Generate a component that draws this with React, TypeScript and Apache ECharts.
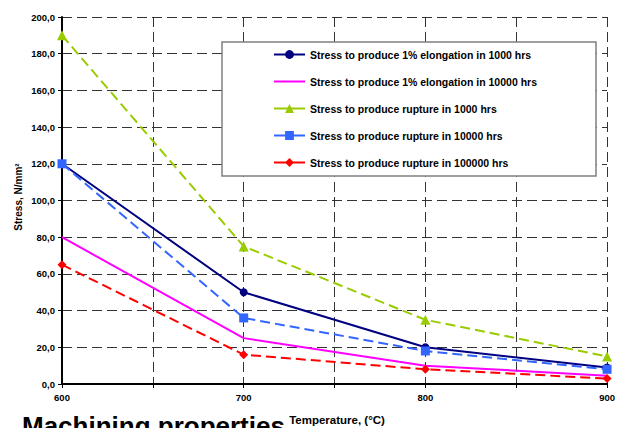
import React, { useEffect, useRef } from "react";
import * as echarts from "echarts";

const temps = [600, 700, 800, 900];
const elong1000 = [120, 50, 20, 9];
const elong10000 = [80, 25, 10, 4.5];
const rupture1000 = [190, 75, 35, 15];
const rupture10000 = [120, 36, 18, 8];
const rupture100000 = [65, 16, 8, 3];

const seriesNames = [
  "Stress to produce 1% elongation in 1000 hrs",
  "Stress to produce 1% elongation in 10000 hrs",
  "Stress to produce rupture in 1000 hrs",
  "Stress to produce rupture in 10000 hrs",
  "Stress to produce rupture in 100000 hrs",
];

const FONT = "'Liberation Sans', Arial, sans-serif";

const pts = (arr: number[]) => temps.map((t, i) => [t, arr[i]]);

export default function App() {
  const ref = useRef<HTMLDivElement>(null);
  useEffect(() => {
    if (!ref.current) return;
    const chart = echarts.init(ref.current, null, { renderer: "svg" });
    const dash = [10, 5];
    chart.setOption({
      animation: false,
      backgroundColor: "#fff",
      grid: { left: 62, right: 9, top: 17, bottom: 44, containLabel: false },
      xAxis: {
        type: "value",
        min: 600,
        max: 900,
        interval: 50,
        axisLine: { show: true, lineStyle: { color: "#000", width: 2 } },
        axisTick: { show: true, length: 4, lineStyle: { color: "#000", width: 1 } },
        axisLabel: {
          formatter: (v: number) => (v % 100 === 0 ? String(v) : ""),
          fontFamily: FONT,
          fontWeight: "bold",
          fontSize: 9.5,
          color: "#000",
          margin: 8,
          showMinLabel: true,
          showMaxLabel: true,
        },
        splitLine: { show: true, lineStyle: { color: "#333", type: dash, width: 1 } },
      },
      yAxis: {
        type: "value",
        min: 0,
        max: 200,
        interval: 20,
        axisLine: { show: true, lineStyle: { color: "#000", width: 2 } },
        axisTick: { show: true, length: 4, lineStyle: { color: "#000", width: 1 } },
        axisLabel: {
          formatter: (v: number) => v.toFixed(1).replace(".", ","),
          fontFamily: FONT,
          fontWeight: "bold",
          fontSize: 9.5,
          color: "#000",
          margin: 7,
        },
        splitLine: { show: true, lineStyle: { color: "#333", type: dash, width: 1 } },
      },
      legend: {
        orient: "vertical",
        left: 273,
        top: 49,
        padding: 0,
        itemWidth: 31,
        itemHeight: 11,
        itemGap: 16,
        selectedMode: false,
        textStyle: { fontFamily: FONT, fontWeight: "bold", fontSize: 10.5, color: "#000" },
        lineStyle: { type: "solid" },
        data: [
          seriesNames[0],
          { name: seriesNames[1], itemStyle: { opacity: 0 } },
          seriesNames[2],
          seriesNames[3],
          seriesNames[4],
        ],
      },
      graphic: [
        {
          type: "rect",
          z: 3,
          shape: { x: 222, y: 42, width: 374, height: 134 },
          style: { fill: "#fff", stroke: "#808080", lineWidth: 1.5 },
        },
        {
          type: "text",
          x: 18,
          y: 197,
          rotation: Math.PI / 2,
          style: {
            text: "Stress, N/mm²",
            font: `bold 10px ${FONT}`,
            fill: "#000",
            align: "center",
            verticalAlign: "middle",
          },
        },
        {
          type: "text",
          x: 337,
          y: 420,
          style: {
            text: "Temperature, (°C)",
            font: `bold 11.5px ${FONT}`,
            fill: "#000",
            align: "center",
            verticalAlign: "middle",
          },
        },
        {
          type: "text",
          x: 22,
          y: 426,
          style: {
            text: "Machining properties",
            font: `bold 26px ${FONT}`,
            fill: "#000",
            align: "left",
            verticalAlign: "middle",
          },
        },
      ],
      series: [
        {
          name: seriesNames[0],
          type: "line",
          data: pts(elong1000),
          symbol: "circle",
          symbolSize: 8,
          color: "#000080",
          lineStyle: { color: "#000080", width: 2 },
        },
        {
          name: seriesNames[1],
          type: "line",
          data: pts(elong10000),
          symbol: "none",
          color: "#FF00FF",
          lineStyle: { color: "#FF00FF", width: 2 },
        },
        {
          name: seriesNames[2],
          type: "line",
          data: pts(rupture1000),
          symbol: "triangle",
          symbolSize: 10,
          color: "#99CC00",
          lineStyle: { color: "#99CC00", width: 2, type: dash },
        },
        {
          name: seriesNames[3],
          type: "line",
          data: pts(rupture10000),
          symbol: "rect",
          symbolSize: 9,
          color: "#3366FF",
          lineStyle: { color: "#3366FF", width: 2, type: dash },
        },
        {
          name: seriesNames[4],
          type: "line",
          data: pts(rupture100000),
          symbol: "diamond",
          symbolSize: 9,
          color: "#FF0000",
          lineStyle: { color: "#FF0000", width: 2, type: dash },
        },
      ],
    });
    return () => chart.dispose();
  }, []);
  return <div ref={ref} style={{ width: 618, height: 428, position: "absolute", left: 0, top: 0 }} />;
}
